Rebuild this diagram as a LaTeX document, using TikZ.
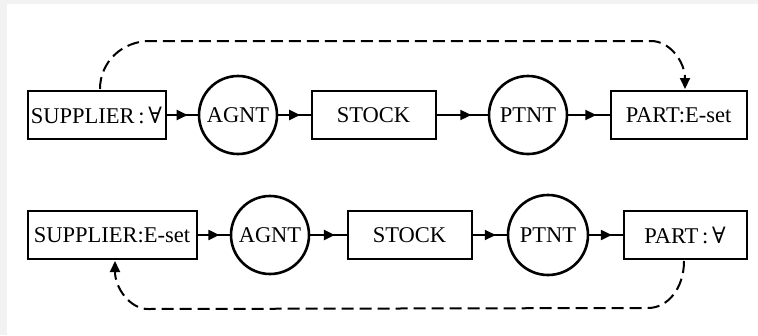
\documentclass[tikz,border=0pt]{standalone}
\usepackage{fontspec}
\setmainfont{Liberation Serif}
\newfontfamily\symfont{DejaVu Serif}
\usetikzlibrary{arrows.meta,decorations.markings,calc}
\definecolor{stripgray}{HTML}{F2F2F2}
\tikzset{tipshape/.tip={Triangle[length=11pt,width=10pt]}}
\begin{document}
\begin{tikzpicture}[x=1pt,y=-1pt,
  every node/.style={font=\fontsize{22.5}{24}\selectfont, inner sep=0pt},
  concept/.style={draw, line width=2pt, rectangle, minimum height=48pt},
  relation/.style={draw, line width=2.6pt, circle, minimum size=78pt},
  midarrow/.style={line width=2pt, postaction={decorate,
     decoration={markings, mark=at position 0.68 with {\arrow{tipshape}}}}},
  coref/.style={line width=2pt, dash pattern=on 12pt off 6pt, -{tipshape}}
]
\useasboundingbox (0,0) rectangle (758,335);
\fill[white] (0,0) rectangle (758,335);
\fill[stripgray] (0,0) rectangle (758,4);
\fill[stripgray] (0,0) rectangle (7,335);

% top row
\node[concept, minimum width=138pt] (s1) at (96.5,115) {SUPPLIER\,:\,{\symfont ∀}};
\node[relation] (a1) at (238,115) {AGNT};
\node[concept, minimum width=124pt] (st1) at (373.5,115) {STOCK};
\node[relation] (p1) at (528,115) {PTNT};
\node[concept, minimum width=136pt] (pt1) at (678.5,115) {PART:E-set};

\draw[midarrow] (s1) -- (a1);
\draw[midarrow] (a1) -- (st1);
\draw[midarrow] (st1) -- (p1);
\draw[midarrow] (p1) -- (pt1);

\coordinate (t1) at ($(s1.north)+(3.5,-1)$);
\coordinate (t2) at ($(pt1.north)+(6.5,-1)$);
\draw[coref] (t1) .. controls ($(t1)+(0,-27)$) and ($(t1)+(22,-48)$) .. ($(t1)+(50,-48)$)
  -- ($(t2)+(-34,-48)$) .. controls ($(t2)+(-15,-48)$) and ($(t2)+(0,-27)$) .. (t2);

% bottom row
\node[concept, minimum width=169pt] (s2) at (112,235) {SUPPLIER:E-set};
\node[relation] (a2) at (270,235) {AGNT};
\node[concept, minimum width=124pt] (st2) at (409.5,235) {STOCK};
\node[relation, minimum size=80pt] (p2) at (548,235) {PTNT};
\node[concept, minimum width=123pt] (pt2) at (685,235) {PART\,:\,{\symfont ∀}};

\draw[midarrow] (s2) -- (a2);
\draw[midarrow] (a2) -- (st2);
\draw[midarrow] (st2) -- (p2);
\draw[midarrow] (p2) -- (pt2);

\coordinate (b1) at ($(pt2.south)+(-1,1)$);
\coordinate (b2) at ($(s2.south)+(3,1)$);
\draw[coref] (b1) .. controls ($(b1)+(0,27)$) and ($(b1)+(-16,47)$) .. ($(b1)+(-36,47)$)
  -- ($(b2)+(33,48)$) .. controls ($(b2)+(15,48)$) and ($(b2)+(0,27)$) .. (b2);
\end{tikzpicture}
\end{document}
